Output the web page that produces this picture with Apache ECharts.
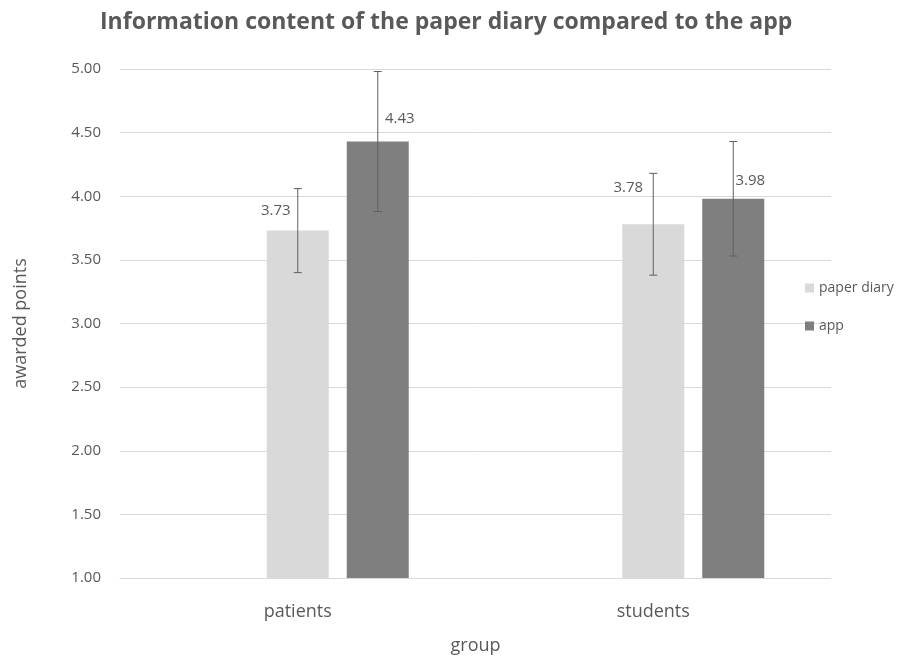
<!DOCTYPE html>
<html>
<head>
<meta charset="utf-8">
<script src="https://cdn.jsdelivr.net/npm/echarts@6/dist/echarts.min.js"></script>
<style>html,body{margin:0;padding:0;background:#fff;overflow:hidden}#c{width:906px;height:660px}</style>
</head>
<body>
<div id="c"></div>
<script>
var categories = ['patients', 'students'];
var paperDiary = [3.73, 3.78];
var app = [4.43, 3.98];
var errPaper = [0.33, 0.40];
var errApp = [0.55, 0.45];
var yTicks = { min: 1, max: 5, interval: 0.5 };

var TXT = '#595959';
var BAR_W = 62, GAP = 18;
var labelOffsets = [[[-22, -7], [-25, -24]], [[22, -10], [17, -6]]];

function errSeries(name, means, errs, dx) {
  return {
    type: 'custom',
    name: name + ' err',
    z: 5,
    silent: true,
    encode: { x: 0, y: 1 },
    data: means.map(function (m, i) { return [i, m, errs[i]]; }),
    renderItem: function (params, api) {
      var idx = api.value(0), m = api.value(1), e = api.value(2);
      var top = api.coord([idx, m + e]);
      var bot = api.coord([idx, m - e]);
      var x = top[0] + dx, c = 4;
      var st = { stroke: '#606060', lineWidth: 1 };
      return {
        type: 'group',
        children: [
          { type: 'line', shape: { x1: x, y1: top[1], x2: x, y2: bot[1] }, style: st },
          { type: 'line', shape: { x1: x - c, y1: top[1], x2: x + c, y2: top[1] }, style: st },
          { type: 'line', shape: { x1: x - c, y1: bot[1], x2: x + c, y2: bot[1] }, style: st }
        ]
      };
    }
  };
}

function barData(vals, s) {
  return vals.map(function (v, i) {
    return { value: v, label: { offset: labelOffsets[s][i] } };
  });
}

var labelStyle = { show: true, position: 'top', color: TXT, fontSize: 15, fontFamily: 'Open Sans',
  formatter: function (p) { return p.value.toFixed(2); } };

var option = {
  backgroundColor: '#fff',
  animation: false,
  title: {
    text: 'Information content of the paper diary compared to the app',
    left: 95, top: 6,
    textStyle: { color: TXT, fontSize: 23, fontWeight: 'bold', fontFamily: 'Open Sans' }
  },
  legend: {
    orient: 'vertical', left: 800, top: 276,
    data: ['paper diary', 'app'],
    icon: 'rect', itemWidth: 9, itemHeight: 9, itemGap: 24,
    textStyle: { color: TXT, fontSize: 14, fontFamily: 'Open Sans' }
  },
  grid: { left: 120, width: 711, top: 69, height: 509 },
  xAxis: {
    type: 'category', data: categories,
    name: 'group', nameLocation: 'middle', nameGap: 59,
    nameTextStyle: { color: TXT, fontSize: 18, fontFamily: 'Open Sans' },
    axisLine: { lineStyle: { color: '#d9d9d9' } },
    axisTick: { show: false },
    axisLabel: { color: TXT, fontSize: 18, fontFamily: 'Open Sans', margin: 25 }
  },
  yAxis: {
    type: 'value', min: yTicks.min, max: yTicks.max, interval: yTicks.interval,
    name: 'awarded points', nameLocation: 'middle', nameGap: 90,
    nameTextStyle: { color: TXT, fontSize: 18, fontFamily: 'Open Sans' },
    axisLine: { show: false }, axisTick: { show: false },
    axisLabel: { color: TXT, fontSize: 15, fontFamily: 'Open Sans', margin: 19,
      formatter: function (v) { return v.toFixed(2); } },
    splitLine: { lineStyle: { color: '#d9d9d9' } }
  },
  series: [
    { type: 'bar', name: 'spacer', data: [null, null], barWidth: BAR_W, barGap: (GAP / BAR_W * 100) + '%' },
    { type: 'bar', name: 'paper diary', data: barData(paperDiary, 0), barWidth: BAR_W, barGap: (GAP / BAR_W * 100) + '%',
      itemStyle: { color: '#d9d9d9' }, label: labelStyle },
    { type: 'bar', name: 'app', data: barData(app, 1), barWidth: BAR_W, barGap: (GAP / BAR_W * 100) + '%',
      itemStyle: { color: '#7f7f7f' }, label: labelStyle },
    errSeries('paper diary', paperDiary, errPaper, 0),
    errSeries('app', app, errApp, BAR_W + GAP)
  ]
};

var chart = echarts.init(document.getElementById('c'), null, { renderer: 'canvas' });
chart.setOption(option);
</script>
</body>
</html>
